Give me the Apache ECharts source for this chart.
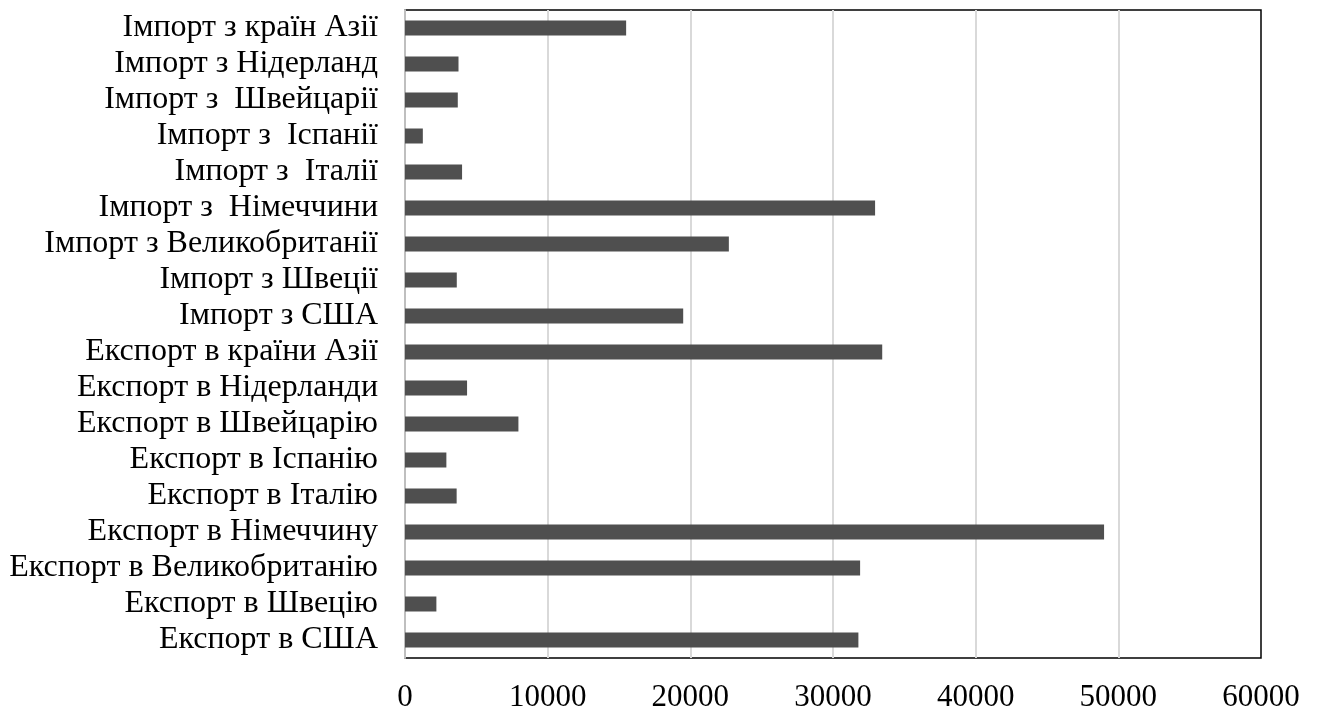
<!DOCTYPE html>
<html>
<head>
<meta charset="utf-8">
<script src="https://cdn.jsdelivr.net/npm/echarts@6/dist/echarts.min.js"></script>
<style>html,body{margin:0;padding:0;background:#fff}#c{width:1317px;height:713px}</style>
</head>
<body>
<div id="c"></div>
<script>
// Categories listed top to bottom
const categories = [
  "Імпорт з країн Азії",
  "Імпорт з Нідерланд",
  "Імпорт з  Швейцарії",
  "Імпорт з  Іспанії",
  "Імпорт з  Італії",
  "Імпорт з  Німеччини",
  "Імпорт з Великобританії",
  "Імпорт з Швеції",
  "Імпорт з США",
  "Експорт в країни Азії",
  "Експорт в Нідерланди",
  "Експорт в Швейцарію",
  "Експорт в Іспанію",
  "Експорт в Італію",
  "Експорт в Німеччину",
  "Експорт в Великобританію",
  "Експорт в Швецію",
  "Експорт в США"
];
const values = [
  15500, 3750, 3700, 1250, 4000, 32950, 22700, 3630, 19500,
  33450, 4350, 7950, 2900, 3620, 49000, 31900, 2200, 31780
];
const xTicks = [0, 10000, 20000, 30000, 40000, 50000, 60000];

const chart = echarts.init(document.getElementById('c'), null, {renderer: 'canvas'});
chart.setOption({
  animation: false,
  backgroundColor: '#ffffff',
  grid: {
    left: 405, right: 56, top: 10, bottom: 55,
    show: true, borderColor: '#000000', borderWidth: 1.5, backgroundColor: 'transparent'
  },
  xAxis: {
    type: 'value',
    min: xTicks[0], max: xTicks[xTicks.length - 1], interval: 10000,
    axisLine: {show: false},
    axisTick: {show: false},
    splitLine: {show: true, showMinLine: false, showMaxLine: false, lineStyle: {color: '#d9d9d9', width: 2}},
    axisLabel: {
      color: '#000', fontFamily: 'Liberation Serif', fontSize: 31, margin: 24,
      formatter: v => String(v)
    }
  },
  yAxis: {
    type: 'category',
    inverse: true,
    data: categories,
    axisLine: {show: true, lineStyle: {color: '#bfbfbf', width: 2}},
    axisTick: {show: false},
    axisLabel: {
      interval: 0,
      color: '#000', fontFamily: 'Liberation Serif', fontSize: 32, margin: 27
    }
  },
  series: [{
    type: 'bar',
    data: values,
    barWidth: 15,
    itemStyle: {color: '#4f4f4f'}
  }]
});
</script>
</body>
</html>
